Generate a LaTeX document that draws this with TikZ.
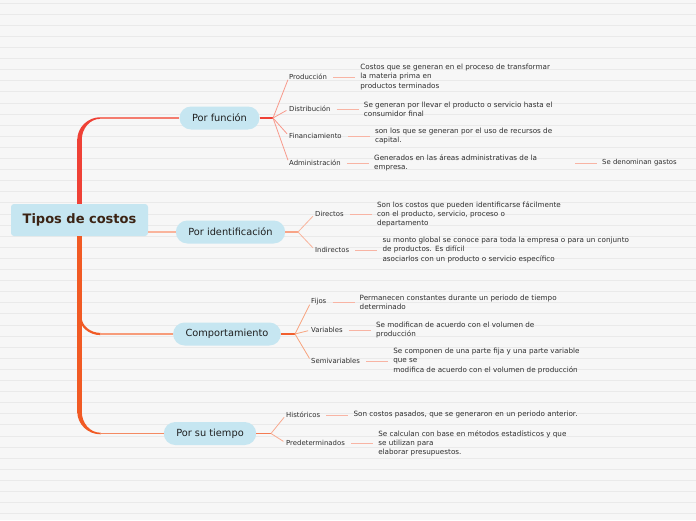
\documentclass[tikz,border=0pt]{standalone}
\usepackage{fontspec}
\setmainfont{DejaVu Sans}
\usetikzlibrary{positioning}
\definecolor{paper}{HTML}{F7F7F7}
\definecolor{ruling}{HTML}{EAEAEA}
\definecolor{bubble}{HTML}{C6E6F1}
\definecolor{rootink}{HTML}{3B2314}
\definecolor{trunkred}{HTML}{EF4136}
\definecolor{trunkorange}{HTML}{F15A24}
\definecolor{funline}{HTML}{F47C6E}
\definecolor{funfan}{HTML}{F79A8C}
\definecolor{ideline}{HTML}{F9B49C}
\definecolor{idestub}{HTML}{F8A487}
\definecolor{comline}{HTML}{F79C7A}
\definecolor{comstub}{HTML}{F15F2E}
\definecolor{comfan}{HTML}{F8A47E}
\definecolor{tieline}{HTML}{F48A62}
\definecolor{tiestub}{HTML}{F47B52}
\definecolor{tiefan}{HTML}{F8AA90}
\definecolor{twig}{HTML}{F8B4A4}
\tikzset{
  topic/.style={fill=bubble,rounded corners=11.5pt,minimum height=23pt,inner xsep=12.5pt,
    font=\fontsize{9.8}{12}\selectfont,text=black!88},
  leaf/.style={anchor=west,inner sep=0pt,font=\fontsize{6.9}{9}\selectfont,text=black!82},
  note/.style={inner sep=0pt,align=left,font=\fontsize{7.2}{9.1}\selectfont,text=black!82},
  trunk/.style={line width=4.5pt},
  branchline/.style={line width=1.2pt},
  stub/.style={line width=1.4pt},
  fanline/.style={line width=0.8pt,shorten >=3pt},
  twigline/.style={draw=twig,line width=0.9pt,shorten >=5pt,shorten <=6pt}
}
\begin{document}
\begin{tikzpicture}[x=1pt,y=-1pt,node distance=33pt]
  \fill[paper] (0,0) rectangle (696,520);
  \useasboundingbox (0,0) rectangle (696,520);
  \foreach \i in {0,...,46}
    \draw[ruling,line width=0.8pt] (0,3+11.1*\i) -- (696,3+11.1*\i);

  \node[fill=bubble,rounded corners=3pt,minimum width=137pt,minimum height=32pt,
    font=\bfseries\fontsize{13}{15}\selectfont,text=rootink] (root) at (79.5,220) {Tipos de costos};
  \node[topic] (fun) at (219.5,118) {Por función};
  \node[topic] (ide) at (230.5,232) {Por identificación};
  \node[topic] (com) at (227,334) {Comportamiento};
  \node[topic] (tie) at (210,433.5) {Por su tiempo};

  \coordinate (kfun) at (root.center |- fun.west);
  \coordinate (kcom) at (root.center |- com.west);
  \coordinate (ktie) at (root.center |- tie.west);

  \draw[trunk,trunkred] (root.north) -- ([yshift=-21pt]kfun);
  \fill[trunkred] ([xshift=-2.25pt,yshift=-22pt]kfun) to[out=90,in=180] ([xshift=21pt,yshift=0.8pt]kfun)
    -- ([xshift=21pt,yshift=-0.8pt]kfun) to[out=180,in=90] ([xshift=2.25pt,yshift=-22pt]kfun) -- cycle;
  \draw[branchline,funline] ([xshift=20.5pt]kfun) -- (fun);

  \draw[branchline,ideline] (ide -| root.east) -- (ide);

  \draw[trunk,trunkorange] (root.south) -- ([yshift=21pt]ktie);
  \fill[trunkorange] ([xshift=-2.25pt,yshift=22pt]ktie) to[out=-90,in=180] ([xshift=21pt,yshift=-0.8pt]ktie)
    -- ([xshift=21pt,yshift=0.8pt]ktie) to[out=180,in=-90] ([xshift=2.25pt,yshift=22pt]ktie) -- cycle;
  \draw[branchline,tieline] ([xshift=20.5pt]ktie) -- (tie);
  \draw[trunkorange,line width=2.2pt] ([xshift=0.8pt,yshift=18pt]kcom) to[out=-90,in=180] ([xshift=21pt]kcom);
  \draw[branchline,comline] ([xshift=20.5pt]kcom) -- (com);

  \coordinate (ffun) at (273,118);
  \node[leaf] (prod) at (289,77) {Producción};
  \node[leaf] (dist) at (289,109) {Distribución};
  \node[leaf] (fina) at (289,136) {Financiamiento};
  \node[leaf] (admi) at (289,163) {Administración};
  \node[note,right=of prod] (prod-d) {Costos que se generan en el proceso de transformar\\la materia prima en\\productos terminados};
  \node[note,right=of dist] (dist-d) {Se generan por llevar el producto o servicio hasta el\\consumidor final};
  \node[note,right=of fina] (fina-d) {son los que se generan por el uso de recursos de\\capital.};
  \node[note,right=of admi] (admi-d) {Generados en las áreas administrativas de la\\empresa.};
  \node[leaf] (gast) at (602,163) {Se denominan gastos};
  \draw[stub,trunkred] (fun) -- (ffun);
  \path[fanline,draw=funfan]
    (ffun) edge (prod.west)
    (ffun) edge (dist.west)
    (ffun) edge (fina.west)
    (ffun) edge (admi.west);
  \path[twigline]
    (prod) edge (prod-d)
    (dist) edge (dist-d)
    (fina) edge (fina-d)
    (admi) edge (admi-d);
  \draw[twigline] ([xshift=-33pt]gast.west) -- (gast.west);

  \coordinate (fide) at (298,232);
  \node[leaf] (dire) at (315,214) {Directos};
  \node[leaf] (indi) at (315,250) {Indirectos};
  \node[note,right=of dire] (dire-d) {Son los costos que pueden identificarse fácilmente\\con el producto, servicio, proceso o\\departamento};
  \node[note,right=of indi] (indi-d) {su monto global se conoce para toda la empresa o para un conjunto\\de productos. Es difícil\\asociarlos con un producto o servicio específico};
  \draw[stub,idestub] (ide) -- (fide);
  \path[fanline,draw=ideline]
    (fide) edge (dire.west)
    (fide) edge (indi.west);
  \path[twigline]
    (dire) edge (dire-d)
    (indi) edge (indi-d);

  \coordinate (fcom) at (295,334);
  \node[leaf] (fijo) at (311,302) {Fijos};
  \node[leaf] (vari) at (311,330) {Variables};
  \node[leaf] (semi) at (311,361) {Semivariables};
  \node[note,right=of fijo] (fijo-d) {Permanecen constantes durante un periodo de tiempo\\determinado};
  \node[note,right=of vari] (vari-d) {Se modifican de acuerdo con el volumen de\\producción};
  \node[note,right=of semi] (semi-d) {Se componen de una parte fija y una parte variable\\que se\\modifica de acuerdo con el volumen de producción};
  \draw[stub,comstub] (com) -- (fcom);
  \path[fanline,draw=comfan]
    (fcom) edge (fijo.west)
    (fcom) edge (vari.west)
    (fcom) edge (semi.west);
  \path[twigline]
    (fijo) edge (fijo-d)
    (vari) edge (vari-d)
    (semi) edge (semi-d);

  \coordinate (ftie) at (271,433.5);
  \node[leaf] (hist) at (286,415) {Históricos};
  \node[leaf] (pred) at (286,443) {Predeterminados};
  \node[note,right=of hist] (hist-d) {Son costos pasados, que se generaron en un periodo anterior.};
  \node[note,right=of pred] (pred-d) {Se calculan con base en métodos estadísticos y que\\se utilizan para\\elaborar presupuestos.};
  \draw[stub,tiestub] (tie) -- (ftie);
  \path[fanline,draw=tiefan]
    (ftie) edge (hist.west)
    (ftie) edge (pred.west);
  \path[twigline]
    (hist) edge (hist-d)
    (pred) edge (pred-d);
\end{tikzpicture}
\end{document}
